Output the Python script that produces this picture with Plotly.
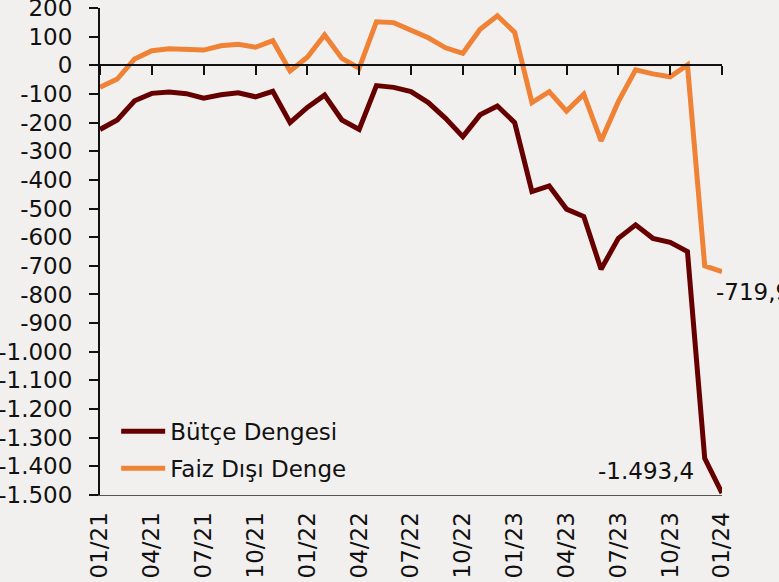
import plotly.graph_objects as go

months = [f"{m:02d}/{y}" for y in (21, 22, 23) for m in range(1, 13)] + ["01/24"]

butce_dengesi = [-224, -191, -124, -98, -93, -99, -115, -103, -96, -110, -91, -200,
                 -147, -104, -191, -224, -71, -77, -92, -130, -185, -249, -173, -142,
                 -200, -441, -421, -502, -528, -712, -604, -557, -604, -618, -650, -1372,
                 -1493.4]
faiz_disi_denge = [-77, -48, 22, 51, 58, 56, 53, 68, 73, 63, 86, -20,
                   28, 106, 24, -10, 152, 149, 123, 96, 61, 42, 126, 173,
                   115, -130, -92, -160, -101, -264, -127, -16, -30, -40, 1, -700,
                   -719.9]

x_tick_labels = ["01/21", "04/21", "07/21", "10/21", "01/22", "04/22", "07/22",
                 "10/22", "01/23", "04/23", "07/23", "10/23", "01/24"]
y_tick_vals = list(range(200, -1501, -100))
y_tick_text = ["200", "100", "0", "-100", "-200", "-300", "-400", "-500", "-600",
               "-700", "-800", "-900", "-1.000", "-1.100", "-1.200", "-1.300",
               "-1.400", "-1.500"]
label_butce = "-1.493,4"
label_faiz = "-719,9"

FONT = "DejaVu Sans"
FS = 23
YMIN, YMAX = -1500, 200

fig = go.Figure()
fig.add_trace(go.Scatter(x=months, y=butce_dengesi, mode="lines", name="Bütçe Dengesi",
                         line=dict(color="#660000", width=5), legendgroup="a"))
fig.add_trace(go.Scatter(x=months, y=faiz_disi_denge, mode="lines", name="Faiz Dışı Denge",
                         line=dict(color="#F08236", width=5), legendgroup="b"))
# invisible trace to hold the zero-line tick axis
fig.add_trace(go.Scatter(x=months, y=[None] * len(months), xaxis="x2", showlegend=False,
                         hoverinfo="skip"))

fig.add_annotation(x=months[-1], y=butce_dengesi[-1], text=label_butce, showarrow=False,
                   xanchor="right", yanchor="middle", xshift=-26, yshift=22,
                   font=dict(family=FONT, size=FS, color="#111"))
fig.add_annotation(x=months[-1], y=faiz_disi_denge[-1], text=label_faiz, showarrow=False,
                   xanchor="left", yanchor="middle", xshift=-8, yshift=-20,
                   font=dict(family=FONT, size=FS, color="#111"))

zero_pos = (0 - YMIN) / (YMAX - YMIN)

fig.update_layout(
    width=779, height=582,
    margin=dict(l=100, r=57, t=8, b=87, autoexpand=False),
    paper_bgcolor="#F2F0EE", plot_bgcolor="#F2F0EE",
    font=dict(family=FONT, size=FS, color="#111"),
    showlegend=True,
    legend=dict(x=0.026, y=0.175, xanchor="left", yanchor="top",
                bgcolor="rgba(0,0,0,0)", font=dict(family=FONT, size=FS),
                tracegroupgap=4, itemwidth=44),
    xaxis=dict(type="category", range=[0, 36], showgrid=False, zeroline=False,
               automargin=False,
               tickmode="array", tickvals=x_tick_labels, ticktext=x_tick_labels,
               tickangle=-90, ticks="", showline=True, linecolor="#555", linewidth=1,
               ticklabelstandoff=7, ticklabeloverflow="allow",
               tickfont=dict(family=FONT, size=FS)),
    xaxis2=dict(type="category", range=[0, 36], overlaying="x", anchor="free",
                position=zero_pos, showgrid=False, zeroline=False, automargin=False,
                tickmode="array", tickvals=x_tick_labels, showticklabels=False,
                ticks="outside", ticklen=9, tickwidth=2, tickcolor="#111",
                showline=True, linecolor="#111", linewidth=2),
    yaxis=dict(range=[YMIN, YMAX], showgrid=False, zeroline=False, automargin=False,
               tickmode="array", tickvals=y_tick_vals, ticktext=y_tick_text,
               ticks="outside", ticklen=9, tickwidth=2, tickcolor="#111",
               showline=True, linecolor="#111", linewidth=2,
               ticklabelstandoff=12, ticklabeloverflow="allow",
               tickfont=dict(family=FONT, size=FS)),
)

fig.write_html("out.html", post_script="document.body.style.margin='0';",
               config={"displayModeBar": False})
